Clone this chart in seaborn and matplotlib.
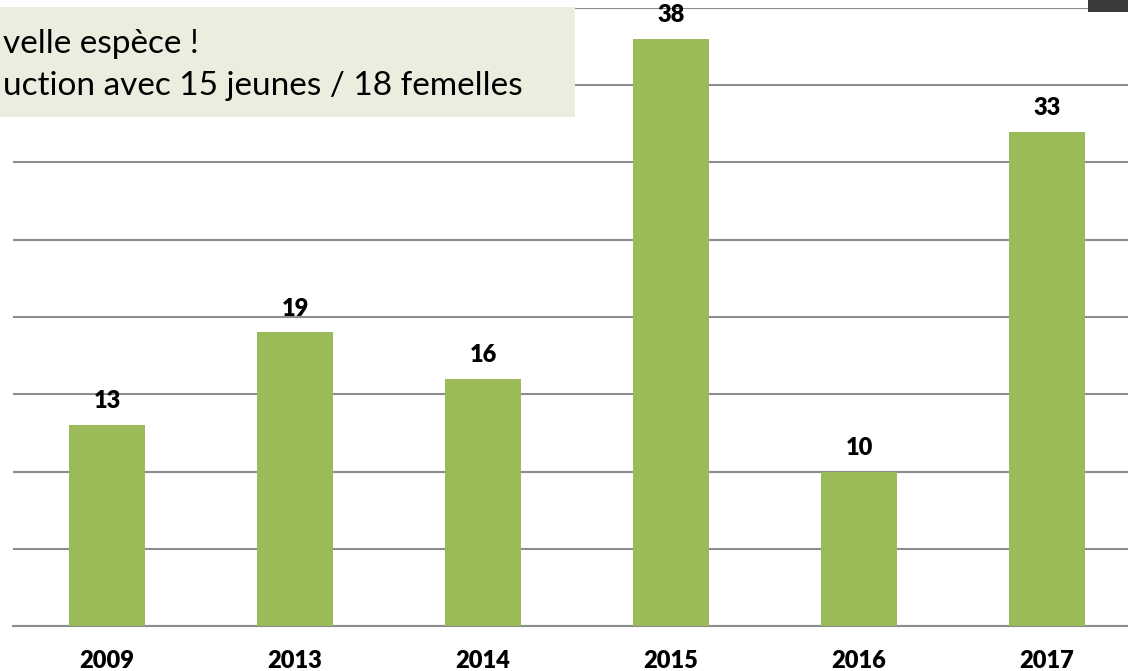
import matplotlib
matplotlib.use("Agg")
import matplotlib.pyplot as plt
import seaborn as sns
import pandas as pd

# Data
years = ["2009", "2013", "2014", "2015", "2016", "2017"]
bar_heights = [13, 19, 16, 38, 10, 32]  # the 2017 bar is drawn at ~32 in the original
value_labels = ["13", "19", "16", "38", "10", "33"]
note_lines = ["velle espèce !", "uction avec 15 jeunes / 18 femelles"]

df = pd.DataFrame({"year": years, "count": bar_heights})

sns.set_style("white")
plt.rcParams["font.family"] = ["Lato", "DejaVu Sans"]

fig = plt.figure(figsize=(11.28, 6.71), dpi=100)
# axes spill past the right edge, as in the cropped original
ax = fig.add_axes([13 / 1128, 45 / 671, 1128 / 1128, 618 / 671])

sns.barplot(data=df, x="year", y="count", color="#9BBB59", width=0.4,
            saturation=1, ax=ax, zorder=3, linewidth=0)

ax.set_ylim(0, 40)
ax.set_xlim(-0.5, 5.5)
ax.set_yticks(range(0, 41, 5))
ax.yaxis.grid(True, color="#8c8c8c", linewidth=1.5)
ax.set_axisbelow(True)
ax.tick_params(axis="y", left=False, labelleft=False)

for side in ["top", "right", "left"]:
    ax.spines[side].set_visible(False)
ax.spines["bottom"].set_color("#8c8c8c")
ax.spines["bottom"].set_linewidth(1.5)

# category labels at centres, tick marks on the boundaries
ax.tick_params(axis="x", which="major", length=0, pad=17,
               labelsize=17, labelcolor="black")
for lbl in ax.get_xticklabels():
    lbl.set_fontweight("heavy")
ax.set_xticks([i - 0.5 for i in range(len(years) + 1)], minor=True)
ax.tick_params(axis="x", which="minor", length=7, width=1.5, color="#8c8c8c",
               direction="out")
ax.set_xlabel("")
ax.set_ylabel("")

# value labels above bars
for i, (h, lab) in enumerate(zip(bar_heights, value_labels)):
    ax.text(i, h + 1.55, lab, ha="center", va="center", fontsize=17,
            fontweight="heavy", color="black", zorder=4)

# annotation box (cut off on the left)
fig.patches.append(plt.Rectangle((0, 1 - 117 / 671), 575 / 1128, 110 / 671,
                                 transform=fig.transFigure,
                                 facecolor="#EBEEDF", edgecolor="none",
                                 zorder=5))
fig.text(3 / 1128, 1 - 44 / 671, note_lines[0], fontsize=24, va="center",
         ha="left", color="black", zorder=6)
fig.text(3 / 1128, 1 - 86 / 671, note_lines[1], fontsize=24, va="center",
         ha="left", color="black", zorder=6)

# dark fragment in the top-right corner
fig.patches.append(plt.Rectangle((1088 / 1128, 1 - 12 / 671), 40 / 1128,
                                 12 / 671, transform=fig.transFigure,
                                 facecolor="#3a3a3a", edgecolor="none",
                                 zorder=5))

fig.savefig("out.png", dpi=100)
